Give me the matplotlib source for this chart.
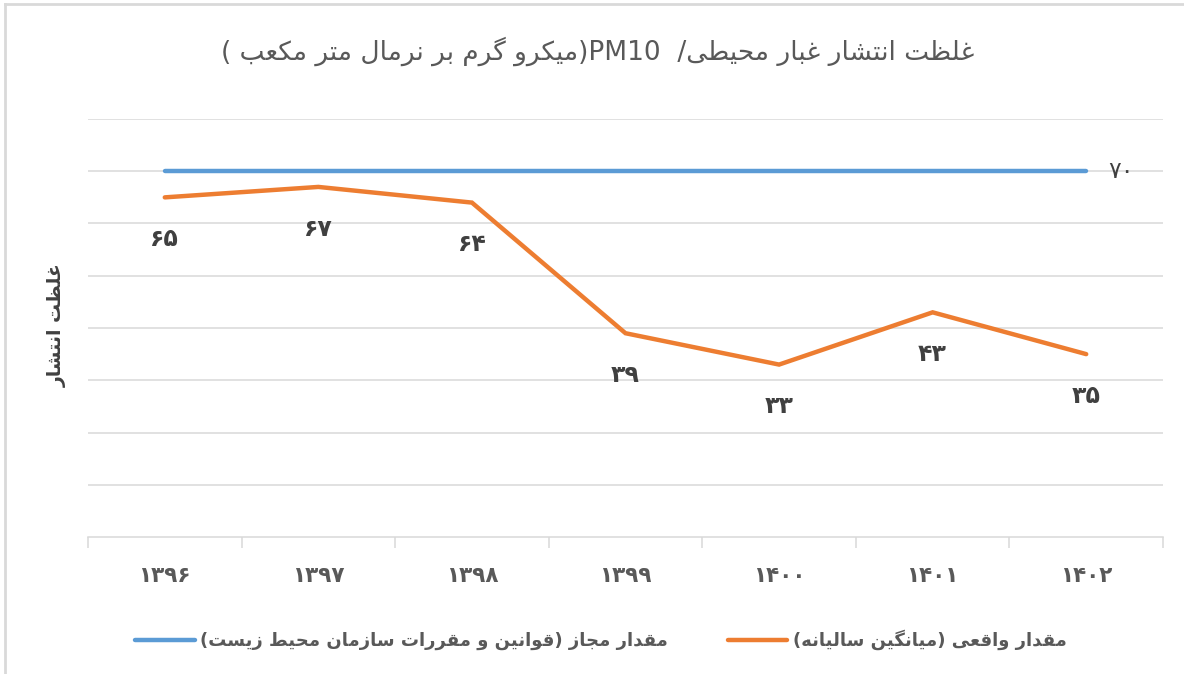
import matplotlib
matplotlib.use("Agg")
import matplotlib.pyplot as plt
from matplotlib.lines import Line2D

# ---------------- data ----------------
years = ["۱۳۹۶", "۱۳۹۷", "۱۳۹۸", "۱۳۹۹", "۱۴۰۰", "۱۴۰۱", "۱۴۰۲"]
allowed = [70, 70, 70, 70, 70, 70, 70]
actual = [65, 67, 64, 39, 33, 43, 35]
actual_labels = ["۶۵", "۶۷", "۶۴", "۳۹", "۳۳", "۴۳", "۳۵"]
allowed_label = "۷۰"
title_words = "غلظت انتشار غبار محیطی"
title_unit = "میکرو گرم بر نرمال متر مکعب"
legend_allowed = "مقدار مجاز (قوانین و مقررات سازمان محیط زیست)"
legend_actual = "مقدار واقعی (میانگین سالیانه)"
ylabel_text = "غلظت انتشار"

# ---------------- minimal Arabic/Persian shaping ----------------
FORMS = {
    'ب': (0xFE8F, 0xFE90, 0xFE91, 0xFE92), 'ت': (0xFE95, 0xFE96, 0xFE97, 0xFE98),
    'ث': (0xFE99, 0xFE9A, 0xFE9B, 0xFE9C), 'ج': (0xFE9D, 0xFE9E, 0xFE9F, 0xFEA0),
    'ح': (0xFEA1, 0xFEA2, 0xFEA3, 0xFEA4), 'خ': (0xFEA5, 0xFEA6, 0xFEA7, 0xFEA8),
    'س': (0xFEB1, 0xFEB2, 0xFEB3, 0xFEB4), 'ش': (0xFEB5, 0xFEB6, 0xFEB7, 0xFEB8),
    'ص': (0xFEB9, 0xFEBA, 0xFEBB, 0xFEBC), 'ض': (0xFEBD, 0xFEBE, 0xFEBF, 0xFEC0),
    'ط': (0xFEC1, 0xFEC2, 0xFEC3, 0xFEC4), 'ظ': (0xFEC5, 0xFEC6, 0xFEC7, 0xFEC8),
    'ع': (0xFEC9, 0xFECA, 0xFECB, 0xFECC), 'غ': (0xFECD, 0xFECE, 0xFECF, 0xFED0),
    'ف': (0xFED1, 0xFED2, 0xFED3, 0xFED4), 'ق': (0xFED5, 0xFED6, 0xFED7, 0xFED8),
    'ك': (0xFED9, 0xFEDA, 0xFEDB, 0xFEDC), 'ل': (0xFEDD, 0xFEDE, 0xFEDF, 0xFEE0),
    'م': (0xFEE1, 0xFEE2, 0xFEE3, 0xFEE4), 'ن': (0xFEE5, 0xFEE6, 0xFEE7, 0xFEE8),
    'ه': (0xFEE9, 0xFEEA, 0xFEEB, 0xFEEC), 'ي': (0xFEF1, 0xFEF2, 0xFEF3, 0xFEF4),
    'ی': (0xFBFC, 0xFBFD, 0xFBFE, 0xFBFF), 'ک': (0xFB8E, 0xFB8F, 0xFB90, 0xFB91),
    'گ': (0xFB92, 0xFB93, 0xFB94, 0xFB95), 'پ': (0xFB56, 0xFB57, 0xFB58, 0xFB59),
    'چ': (0xFB7A, 0xFB7B, 0xFB7C, 0xFB7D),
    'ا': (0xFE8D, 0xFE8E), 'د': (0xFEA9, 0xFEAA), 'ذ': (0xFEAB, 0xFEAC),
    'ر': (0xFEAD, 0xFEAE), 'ز': (0xFEAF, 0xFEB0), 'و': (0xFEED, 0xFEEE),
    'ژ': (0xFB8A, 0xFB8B), 'آ': (0xFE81, 0xFE82),
}


def shape(s):
    out = []
    for i, c in enumerate(s):
        if c not in FORMS:
            out.append(c)
            continue
        f = FORMS[c]
        prev = s[i - 1] if i > 0 else None
        nxt = s[i + 1] if i + 1 < len(s) else None
        jp = prev in FORMS and len(FORMS[prev]) == 4
        jn = len(f) == 4 and nxt in FORMS
        if jp and jn:
            ch = f[3]
        elif jp:
            ch = f[1]
        elif jn:
            ch = f[2]
        else:
            ch = f[0]
        out.append(chr(ch))
    return "".join(out)


def rtl(s):
    mirror = {"(": ")", ")": "("}
    return "".join(mirror.get(c, c) for c in reversed(shape(s)))


# ---------------- figure ----------------
TXT = "#595959"
DARK = "#404040"
BLUE = "#5B9BD5"
ORANGE = "#ED7D31"
GRID = "#D9D9D9"

plt.rcParams["font.family"] = ["DejaVu Sans"]

fig = plt.figure(figsize=(11.84, 6.74), dpi=100)
ax = fig.add_axes([88 / 1184, 1 - 537 / 674, (1163 - 88) / 1184, 418 / 674])

x = list(range(len(years)))
ax.plot(x, allowed, color=BLUE, lw=3.2, solid_capstyle="round",
        label=rtl(legend_allowed), zorder=3)
ax.plot(x, actual, color=ORANGE, lw=3.2, solid_capstyle="round",
        solid_joinstyle="miter", label=rtl(legend_actual), zorder=3)

ax.set_xlim(-0.5, len(years) - 0.5)
ax.set_ylim(0, 80)
ax.set_yticks(range(10, 81, 10))
ax.yaxis.grid(True, color=GRID, lw=1.1)
ax.set_axisbelow(True)
ax.tick_params(axis="y", length=0, labelleft=False)
for s in ["top", "left", "right"]:
    ax.spines[s].set_visible(False)
ax.spines["bottom"].set_color(GRID)
ax.spines["bottom"].set_linewidth(1.1)

ax.set_xticks(x)
ax.set_xticklabels(years, fontsize=15.5, fontweight="bold", color=TXT)
ax.tick_params(axis="x", length=0, pad=21)
ax.set_xticks([i - 0.5 for i in range(len(years) + 1)], minor=True)
ax.tick_params(axis="x", which="minor", length=8, width=1.1, color=GRID)

for xi, v, lab in zip(x, actual, actual_labels):
    ax.annotate(lab, (xi, v), xytext=(0, -30), textcoords="offset points",
                ha="center", va="center", fontsize=17, fontweight="bold",
                color=DARK)
ax.annotate(allowed_label, (x[-1], allowed[-1]), xytext=(25, 0),
            textcoords="offset points", ha="center", va="center",
            fontsize=17, color=DARK)

# title: visual order left->right
title_visual = "( " + rtl(title_unit) + ")PM10  /" + rtl(title_words)
fig.text(598 / 1184, 1 - 51 / 674, title_visual, ha="center", va="center",
         fontsize=19, color=TXT)

fig.text(57 / 1184, 1 - 325 / 674, rtl(ylabel_text), rotation=90,
         ha="center", va="center", fontsize=13.5, fontweight="bold", color=DARK)

leg = fig.legend(loc="center", bbox_to_anchor=(601 / 1184, 1 - 640 / 674),
                 ncol=2, frameon=False, handlelength=3.3, columnspacing=3.3,
                 handletextpad=0.3,
                 prop={"size": 13, "weight": "bold"})
for t in leg.get_texts():
    t.set_color(TXT)

# light border (left and top visible in the reference)
fig.add_artist(Line2D([5 / 1184, 5 / 1184], [0, 1 - 4 / 674],
                      transform=fig.transFigure, color=GRID, lw=2))
fig.add_artist(Line2D([5 / 1184, 1], [1 - 4 / 674, 1 - 4 / 674],
                      transform=fig.transFigure, color=GRID, lw=2))

fig.savefig("out.png", dpi=100)
